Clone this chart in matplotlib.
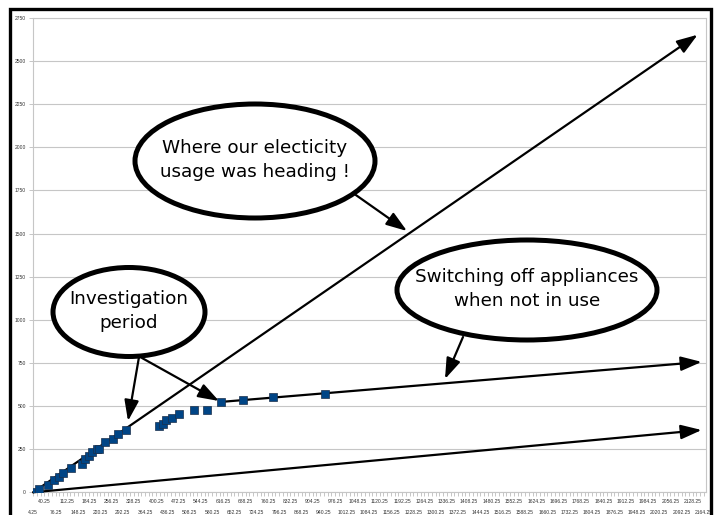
import matplotlib
matplotlib.use("Agg")
import matplotlib.pyplot as plt
import numpy as np
from matplotlib.patches import Ellipse, FancyArrowPatch, Rectangle

W, H = 718, 515

# ---- data ----
days = [4.25, 22.5, 52.5, 71, 87, 101, 125, 161, 172, 184.5, 192.5, 208.5,
        217, 235, 262, 276, 302, 409, 423, 431.5, 451, 474.5, 522.5, 565.5,
        608.5, 680.5, 777, 945.5]
usage = [0, 21, 45, 70, 89, 112, 141, 162, 191, 209, 232, 249,
         253, 292, 311, 336, 360, 383, 398, 418, 433, 452, 476, 476,
         522, 534, 553, 572]

# trend lines (start -> arrow tip), data units
trend_start_x = [4.25, 608.5, 4.25]
trend_start_y = [0, 524, 0]
trend_end_x = [2144, 2157, 2157]
trend_end_y = [2653, 756, 361]

x_tick_start, x_tick_step, x_tick_end = 4.25, 36, 2164.25
y_ticks = list(range(0, 2751, 250))

callouts = ["Where our electicity\nusage was heading !",
            "Investigation\nperiod",
            "Switching off appliances\nwhen not in use"]

fig = plt.figure(figsize=(W / 100, H / 100), dpi=100)
fig.patch.set_facecolor("white")


def P(px, py):
    return (px / W, 1 - py / H)


ax = fig.add_axes([33 / W, 1 - 492.3 / H, (706 - 33) / W, (492.3 - 18) / H])
ax.set_xlim(3.5, 2171)
ax.set_ylim(0, 2750)

grid_c = "#c6c6c6"
lab_fam = ["Liberation Sans Narrow", "Liberation Sans"]
for s in ax.spines.values():
    s.set_color(grid_c)
    s.set_linewidth(0.8)
ax.set_yticks(y_ticks)
ax.set_yticklabels([str(v) for v in y_ticks], family=lab_fam)
ax.yaxis.grid(True, color=grid_c, linewidth=0.8)
ax.set_axisbelow(True)

xt = np.arange(x_tick_start, x_tick_end + 0.01, x_tick_step)
fmt = lambda v: f"{v:.2f}".rstrip("0")
upper = xt[1::2]
lower = xt[0::2]
ax.set_xticks(upper)
ax.set_xticklabels([fmt(v) for v in upper], family=lab_fam)
ax.set_xticks(np.arange(x_tick_start, x_tick_end + 7, 12), minor=True)
ax.tick_params(axis="both", which="both", colors=grid_c, labelcolor="#333333",
               labelsize=3.6, length=3, width=0.7, pad=2)

sec = ax.secondary_xaxis("bottom")
sec.set_xticks(lower)
sec.set_xticklabels([fmt(v) for v in lower], family=lab_fam)
sec.tick_params(axis="x", length=0, pad=13, labelsize=3.6, labelcolor="#333333")
sec.spines["bottom"].set_visible(False)

ax.plot(days, usage, linestyle="none", marker="s", markersize=5.5,
        markerfacecolor="#004586", markeredgecolor="#1b2f4a",
        markeredgewidth=0.5, zorder=4)

astyle = "-|>,head_length=1.1,head_width=0.38"
for sx, sy, ex, ey in zip(trend_start_x, trend_start_y, trend_end_x, trend_end_y):
    ax.annotate("", xy=(ex, ey), xytext=(sx, sy),
                arrowprops=dict(arrowstyle=astyle,
                                mutation_scale=11.5, color="black", lw=1.6,
                                shrinkA=0, shrinkB=0),
                zorder=3, annotation_clip=False)

# callout ellipses
ell = [((255, 161), 240, 114), ((129, 312), 152, 89), ((527, 290), 260, 100)]
for (c, w, h), txt in zip(ell, callouts):
    e = Ellipse(P(*c), w / W, h / H, transform=fig.transFigure,
                facecolor="white", edgecolor="black", lw=3.6, zorder=10)
    fig.patches.append(e)
    fig.text(*P(c[0], c[1] - 1), txt, ha="center", va="center",
             fontsize=13.2, linespacing=1.4, zorder=11, color="black")

# callout arrows (figure pixel positions)
arrows = [((353, 193), (407, 231)),
          ((139, 357), (128, 421)),
          ((142, 358), (219, 401)),
          ((463, 337), (445, 379))]
for a, b in arrows:
    fa = FancyArrowPatch(P(*a), P(*b), transform=fig.transFigure,
                         arrowstyle=astyle,
                         mutation_scale=11.5, color="black", lw=1.6,
                         shrinkA=0, shrinkB=0, zorder=9)
    fig.patches.append(fa)

# outer frame
fig.patches.append(Rectangle(P(10, 540), 701 / W, 531 / H,
                             transform=fig.transFigure, fill=False,
                             edgecolor="black", lw=2.4, zorder=20))

fig.savefig("out.png", dpi=100)
